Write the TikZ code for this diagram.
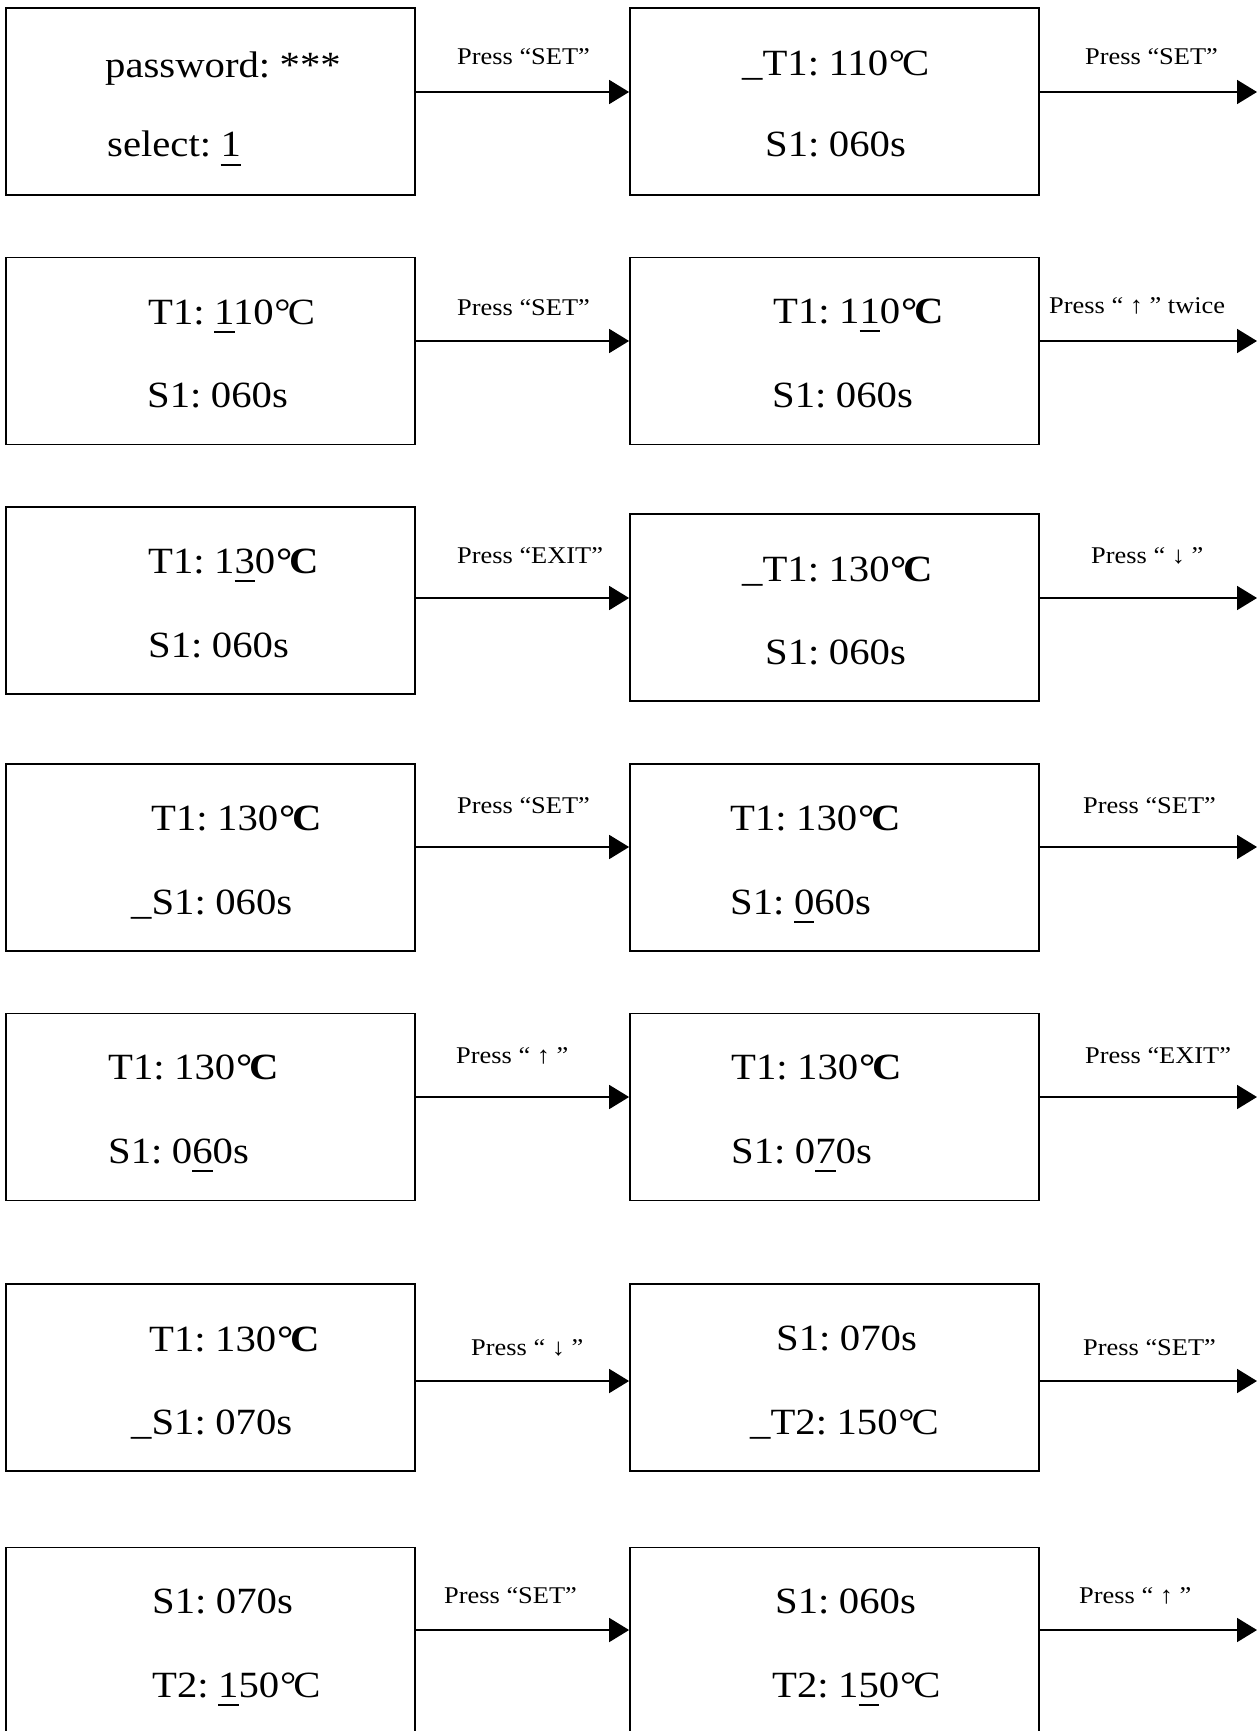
\documentclass[tikz,border=0pt]{standalone}
\usepackage{fontspec}
\setmainfont{Liberation Serif}[FakeStretch=1.1,WordSpace=0.6]
\newfontfamily\labfont{Liberation Serif}[FakeStretch=1.1]
\usetikzlibrary{arrows.meta}
\newcommand\uln[1]{\setbox0\hbox{#1}\rlap{\rule[-0.25em]{\wd0}{0.055em}}#1}
\newcommand\degC{\kern0.02em°\kern-0.08em C}
\newcommand\degCb{\kern0.02em{\bfseries°\kern-0.08em C}}
\tikzset{
  scr/.style={draw, line width=1.8pt, minimum width=409pt, minimum height=187pt, inner sep=0pt},
  txt/.style={anchor=base west, inner sep=0pt, font=\fontsize{37}{44}\selectfont},
  lab/.style={anchor=base west, inner sep=0pt, font=\labfont\fontsize{24}{29}\selectfont},
  arr/.style={line width=1.8pt, -{Triangle[length=20pt,width=24pt]}}
}
\begin{document}
\begin{tikzpicture}[x=1pt,y=-1pt]
\useasboundingbox (0,0) rectangle (1258,1731);
\clip (0,0) rectangle (1258,1731);
% boxes
\node[scr] (L1) at (210.5,101.5) {};
\node[scr] (R1) at (834.5,101.5) {};
\node[scr] (L2) at (210.5,351) {};
\node[scr] (R2) at (834.5,351) {};
\node[scr] (L3) at (210.5,600.5) {};
\node[scr] (R3) at (834.5,607.5) {};
\node[scr] (L4) at (210.5,857.5) {};
\node[scr] (R4) at (834.5,857.5) {};
\node[scr] (L5) at (210.5,1107) {};
\node[scr] (R5) at (834.5,1107) {};
\node[scr] (L6) at (210.5,1377.5) {};
\node[scr] (R6) at (834.5,1377.5) {};
\node[scr] (L7) at (210.5,1641) {};
\node[scr] (R7) at (834.5,1641) {};
% arrow ends
\coordinate (e1) at (1257,92);
\coordinate (e2) at (1257,341);
\coordinate (e3) at (1257,598);
\coordinate (e4) at (1257,847);
\coordinate (e5) at (1257,1097);
\coordinate (e6) at (1257,1381);
\coordinate (e7) at (1257,1630);
% arrows
\draw[arr] (L1.east |- e1) -- (R1.west |- e1);
\draw[arr] (R1.east |- e1) -- (e1);
\draw[arr] (L2.east |- e2) -- (R2.west |- e2);
\draw[arr] (R2.east |- e2) -- (e2);
\draw[arr] (L3.east |- e3) -- (R3.west |- e3);
\draw[arr] (R3.east |- e3) -- (e3);
\draw[arr] (L4.east |- e4) -- (R4.west |- e4);
\draw[arr] (R4.east |- e4) -- (e4);
\draw[arr] (L5.east |- e5) -- (R5.west |- e5);
\draw[arr] (R5.east |- e5) -- (e5);
\draw[arr] (L6.east |- e6) -- (R6.west |- e6);
\draw[arr] (R6.east |- e6) -- (e6);
\draw[arr] (L7.east |- e7) -- (R7.west |- e7);
\draw[arr] (R7.east |- e7) -- (e7);
% labels
\node[lab] (a1) at (457,65) {Press “SET”};
\node[lab] (b1) at (1085,65) {Press “SET”};
\node[lab] (a2) at (457,315) {Press “SET”};
\node[lab] (b2) at (1049,313) {Press “ ↑ ” twice};
\node[lab] (a3) at (457,563) {Press “EXIT”};
\node[lab] (b3) at (1091,563) {Press “ ↓ ”};
\node[lab] (a4) at (457,813) {Press “SET”};
\node[lab] (b4) at (1083,813) {Press “SET”};
\node[lab] (a5) at (456,1063) {Press “ ↑ ”};
\node[lab] (b5) at (1085,1063) {Press “EXIT”};
\node[lab] (a6) at (471,1355) {Press “ ↓ ”};
\node[lab] (b6) at (1083,1355) {Press “SET”};
\node[lab] (a7) at (444,1603) {Press “SET”};
\node[lab] (b7) at (1079,1603) {Press “ ↑ ”};
% screen texts
\node[txt] (l1a) at (105,78) {password: ***};
\node[txt] (l1b) at (107,157) {select: \uln{1}};
\node[txt] (r1a) at (742,76) {\_T1: 110\degC};
\node[txt] (r1b) at (765,157) {S1: 060s};
\node[txt] (l2a) at (148,324) {T1: \uln{1}10\degC};
\node[txt] (l2b) at (147,407) {S1: 060s};
\node[txt] (r2a) at (773,323) {T1: 1\uln{1}0\degCb};
\node[txt] (r2b) at (772,407) {S1: 060s};
\node[txt] (l3a) at (148,573) {T1: 1\uln{3}0\degCb};
\node[txt] (l3b) at (148,657) {S1: 060s};
\node[txt] (r3a) at (742,581) {\_T1: 130\degCb};
\node[txt] (r3b) at (765,664) {S1: 060s};
\node[txt] (l4a) at (151,830) {T1: 130\degCb};
\node[txt] (l4b) at (131,914) {\_S1: 060s};
\node[txt] (r4a) at (730,830) {T1: 130\degCb};
\node[txt] (r4b) at (730,914) {S1: \uln{0}60s};
\node[txt] (l5a) at (108,1079) {T1: 130\degCb};
\node[txt] (l5b) at (108,1163) {S1: 0\uln{6}0s};
\node[txt] (r5a) at (731,1079) {T1: 130\degCb};
\node[txt] (r5b) at (731,1163) {S1: 0\uln{7}0s};
\node[txt] (l6a) at (149,1351) {T1: 130\degCb};
\node[txt] (l6b) at (131,1434) {\_S1: 070s};
\node[txt] (r6a) at (776,1350) {S1: 070s};
\node[txt] (r6b) at (750,1434) {\_T2: 150\degC};
\node[txt] (l7a) at (152,1613) {S1: 070s};
\node[txt] (l7b) at (152,1697) {T2: \uln{1}50\degC};
\node[txt] (r7a) at (775,1613) {S1: 060s};
\node[txt] (r7b) at (772,1697) {T2: 1\uln{5}0\degC};
\end{tikzpicture}
\end{document}
